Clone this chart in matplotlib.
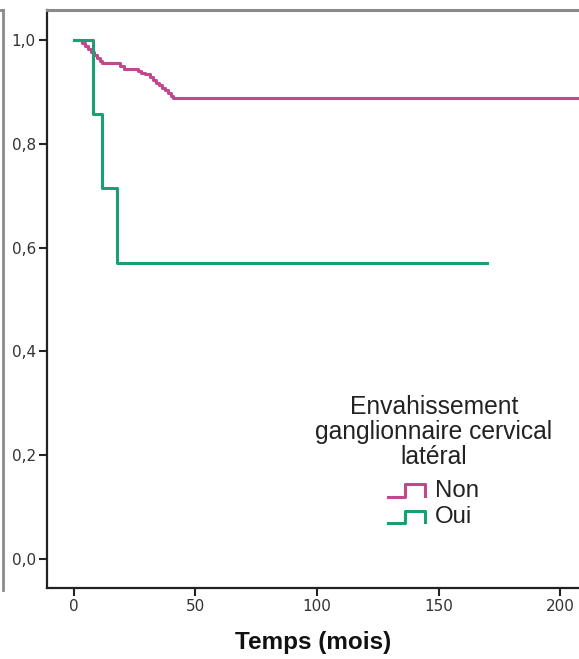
import matplotlib
matplotlib.use("Agg")
import matplotlib.pyplot as plt
from matplotlib.legend_handler import HandlerBase
from matplotlib.lines import Line2D

# survie (Kaplan-Meier) par groupe : temps des événements et survie après l'événement
non_t = [0, 3.3, 4.5, 5.8, 7.0, 8.2, 9.5, 10.7, 11.5, 18.9, 20.6, 26.3, 27.6, 29.2,
         31.3, 32.5, 33.7, 35.0, 36.2, 37.4, 38.7, 39.9, 40.7, 230]
non_s = [1.0, 0.994, 0.988, 0.983, 0.977, 0.971, 0.965, 0.960, 0.956, 0.950, 0.945,
         0.941, 0.937, 0.934, 0.929, 0.923, 0.918, 0.913, 0.908, 0.904, 0.898, 0.892,
         0.888, 0.888]
oui_t = [0, 7.8, 11.6, 17.7, 169.8]
oui_s = [1.0, 0.857, 0.714, 0.571, 0.571]

groupes = ["Non", "Oui"]
couleurs = ["#C2478D", "#17A074"]
titre_legende = "Envahissement\nganglionnaire cervical\nlatéral"
yticks = [0.0, 0.2, 0.4, 0.6, 0.8, 1.0]
xticks = [0, 50, 100, 150, 200]


class StepHandler(HandlerBase):
    def create_artists(self, legend, orig_handle, xdescent, ydescent,
                       width, height, fontsize, trans):
        w, h = width, height
        x0 = -xdescent
        xs = [x0, x0 + 0.45 * w, x0 + 0.45 * w, x0 + w, x0 + w]
        ys = [0.0, 0.0, 0.75 * h, 0.75 * h, 0.05 * h]
        ln = Line2D(xs, ys, color=orig_handle.get_color(), lw=2.2, transform=trans)
        return [ln]


fig = plt.figure(figsize=(5.79, 6.59), dpi=100)
ax = fig.add_axes([47 / 579, 1 - 588 / 659, 1 - 47 / 579, (588 - 10) / 659])

handles = []
for t, s, c, g in [(non_t, non_s, couleurs[0], groupes[0]), (oui_t, oui_s, couleurs[1], groupes[1])]:
    h, = ax.step(t, s, where="post", color=c, lw=2.2, label=g)
    handles.append(h)

ax.set_xlim(-11.1, 207.8)
ax.set_ylim(-0.056, 1.058)
ax.set_xticks(xticks)
ax.set_yticks(yticks)
ax.set_yticklabels([f"{v:.1f}".replace(".", ",") for v in yticks])
ax.tick_params(axis="both", direction="out", length=6, width=1.5, color="#222222",
               labelsize=11, labelcolor="#333333", pad=2)

for sp in ["left", "bottom"]:
    ax.spines[sp].set_color("#222222")
    ax.spines[sp].set_linewidth(1.6)
ax.spines["top"].set_color("#8a8a8a")
ax.spines["top"].set_linewidth(2.2)
ax.spines["right"].set_visible(False)

ax.set_xlabel("Temps (mois)", fontsize=17.5, fontweight="bold",
              family="Liberation Sans", color="#111111", labelpad=12)

# titre de la légende (texte séparé pour régler l'espacement)
ax.text(0.7274, 0.270, titre_legende, transform=ax.transAxes, ha="center", va="center",
        multialignment="center", linespacing=1.065, fontsize=17.7,
        family="Liberation Sans", color="#222222")

leg = ax.legend(handles=handles, labels=groupes,
                handler_map={Line2D: StepHandler()}, frameon=False,
                loc="center", bbox_to_anchor=(0.7265, 0.1453),
                prop={"family": "Liberation Sans", "size": 17.3},
                handlelength=1.55, handletextpad=0.4, labelspacing=0.19,
                borderpad=0.0)
for txt in leg.get_texts():
    txt.set_color("#222222")

# bord du graphique voisin, à gauche
fig.add_artist(Line2D([3 / 579, 3 / 579], [1 - 10 / 659, 1 - 590 / 659],
                      transform=fig.transFigure, color="#8a8a8a", lw=2))
fig.add_artist(Line2D([0, 3 / 579], [1 - 10 / 659, 1 - 10 / 659],
                      transform=fig.transFigure, color="#8a8a8a", lw=2))

fig.savefig("out.png", dpi=100)
